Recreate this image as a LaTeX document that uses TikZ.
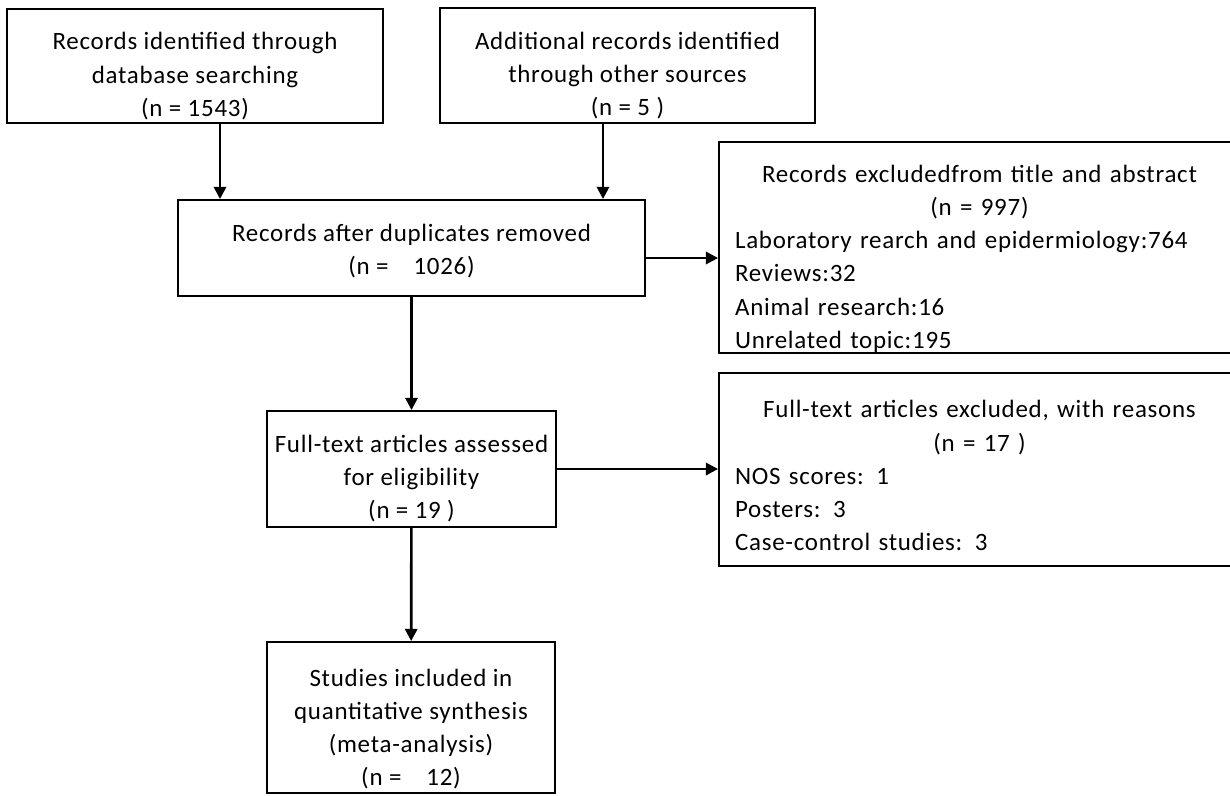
\documentclass[tikz,border=0pt]{standalone}
\usepackage{fontspec}
\setmainfont{Carlito}[LetterSpace=3]
\usetikzlibrary{arrows.meta}

\newcommand{\padtop}[1]{\rule{0pt}{#1}}

\begin{document}
\begin{tikzpicture}
	[x=0.02cm,y=-0.02cm,
	box/.style={draw,line width=1.1pt,inner xsep=2pt,inner ysep=0pt,align=center,
		font=\fontsize{14.2}{18.9}\selectfont},
	list/.style={box,align=left,inner xsep=0.32cm,text width=9.78cm,minimum width=10.42cm},
	link/.style={->,line width=1.5pt},
	>={Triangle[length=7pt,width=7pt]}]
	\path[use as bounding box,clip](0,0)rectangle(1230,795);
	% identification
	\node[box,name=db,minimum width=7.52cm,minimum height=2.28cm]at(195,66)
		{\padtop{21.5pt}Records identified through\\database searching\\(n = 1543)};
	\node[box,name=other,minimum width=7.5cm,minimum height=2.3cm]at(627.5,65.5)
		{\padtop{21.5pt}Additional records identified\\through other sources\\(n = 5 )};
	% screening
	\node[box,name=dup,minimum width=9.34cm,minimum height=1.92cm]at(411.5,248)
		{\padtop{13.5pt}Records after duplicates removed\\(n =\quad 1026)};
	\node[list,name=excl,minimum height=4.22cm]at(979.5,247.5)
		{\makebox[\linewidth]{\padtop{22.5pt}Records excludedfrom title and abstract}\\
		\makebox[\linewidth]{(n = 997)}\\
		Laboratory rearch and epidermiology:764\\
		Reviews:32\\
		Animal research:16\\
		Unrelated topic:195};
	% eligibility
	\node[box,name=full,minimum width=5.78cm,minimum height=2.32cm]at(411.5,469)
		{\padtop{21pt}Full-text articles assessed\\for eligibility\\(n = 19 )};
	\node[list,name=fullexcl,minimum height=3.86cm]at(979.5,469.5)
		{\makebox[\linewidth]{\padtop{17pt}Full-text articles excluded, with reasons}\\
		\makebox[\linewidth]{(n = 17 )}\\
		NOS scores: 1\\
		Posters: 3\\
		Case-control studies: 3};
	% included
	\node[box,name=incl,minimum width=5.76cm,minimum height=3.02cm]at(411,717.5)
		{\padtop{23pt}Studies included in\\quantitative synthesis\\(meta-analysis)\\(n =\quad 12)};
	\draw[link](db.south -| 220,0)--(dup.north -| 220,0);
	\draw[link](other.south -| 603,0)--(dup.north -| 603,0);
	\draw[link](dup.east |- 0,258)--(excl.west |- 0,258);
	\draw[link](dup)--(full);
	\draw[link](full.east)--(fullexcl.west |- full.east);
	\draw[link](full)--(incl);
\end{tikzpicture}
\end{document}
